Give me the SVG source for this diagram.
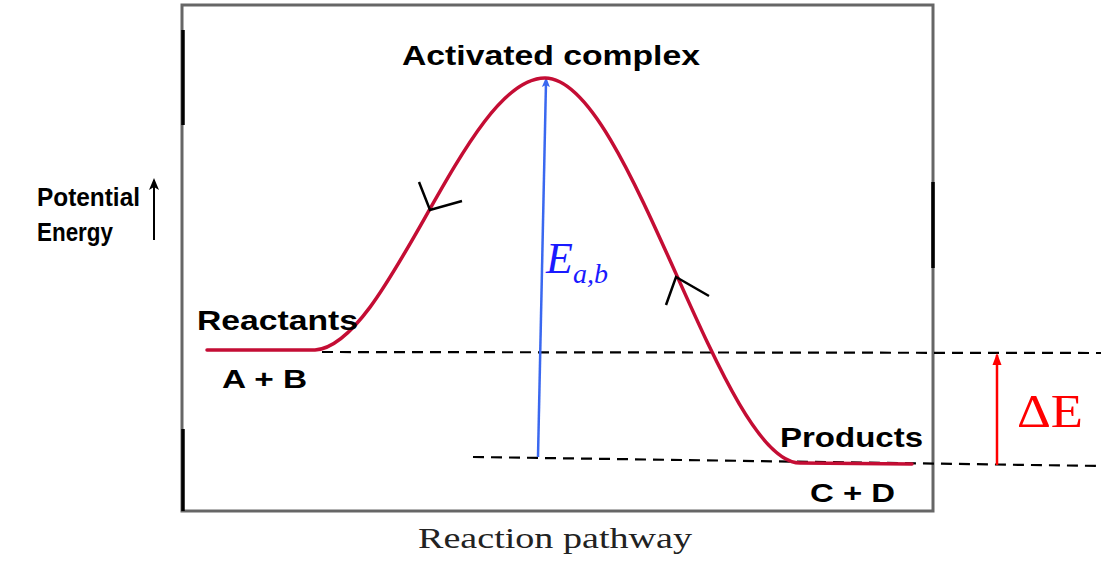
<svg xmlns="http://www.w3.org/2000/svg" width="1101" height="564" viewBox="0 0 1101 564">
<defs>
<style>
.lbl{font-family:"Liberation Sans",Arial,sans-serif;font-weight:bold;fill:#000}
.dash{stroke:#000;stroke-width:2.2;stroke-dasharray:11,7;fill:none}
.curve{stroke:#c40d34;stroke-width:3.5;fill:none;stroke-linecap:round}
.tick{stroke:#000;stroke-width:2.5;fill:none}
</style>
<marker id="ab" markerWidth="10" markerHeight="10" refX="5" refY="5" orient="auto" markerUnits="userSpaceOnUse" viewBox="0 0 10 10"><path d="M0,1 L10,5 L0,9 L2,5 Z" fill="#3a68f0"/></marker>
<marker id="ar" markerWidth="12" markerHeight="12" refX="10" refY="6" orient="auto" markerUnits="userSpaceOnUse" viewBox="0 0 12 12"><path d="M0,1.5 L12,6 L0,10.5 Z" fill="#f00"/></marker>
<marker id="ak" markerWidth="12" markerHeight="12" refX="10" refY="6" orient="auto" markerUnits="userSpaceOnUse" viewBox="0 0 12 12"><path d="M0,1 L12,6 L0,11 L3,6 Z" fill="#000"/></marker>
</defs>
<rect width="1101" height="564" fill="#fff"/>
<g id="frame">
<rect x="182" y="5" width="751" height="506" fill="none" stroke="#666" stroke-width="3"/>
<line x1="183" y1="30" x2="183" y2="125" stroke="#000" stroke-width="3.5"/>
<line x1="183" y1="429" x2="183" y2="511" stroke="#000" stroke-width="3.5"/>
<line x1="933" y1="182" x2="933" y2="268" stroke="#000" stroke-width="3.5"/>
</g>
<g id="connectors">
<line class="dash" x1="322" y1="352" x2="1101" y2="353"/>
<line class="dash" x1="473" y1="457" x2="1101" y2="466"/>
<line x1="538" y1="457" x2="546" y2="82" stroke="#3a68f0" stroke-width="2.5" marker-end="url(#ab)"/>
<line x1="997" y1="465" x2="997" y2="355" stroke="#f00" stroke-width="2.5" marker-end="url(#ar)"/>
<line x1="154" y1="240" x2="154" y2="180" stroke="#000" stroke-width="2" marker-end="url(#ak)"/>
</g>
<g id="curve">
<path class="curve" d="M207,350 L315,350 C390,345 465,78 545,78 C630,78 720,462 800,463 L912,464"/>
<path class="tick" d="M419,182 L430,210 L462,201"/>
<path class="tick" d="M666,305 L676,277 L709,296"/>
</g>
<g id="labels">
<text class="lbl" x="402" y="65" font-size="28" textLength="298" lengthAdjust="spacingAndGlyphs">Activated complex</text>
<text class="lbl" x="37" y="206" font-size="25" textLength="103" lengthAdjust="spacingAndGlyphs">Potential</text>
<text class="lbl" x="37" y="241" font-size="25" textLength="76" lengthAdjust="spacingAndGlyphs">Energy</text>
<text class="lbl" x="197" y="330" font-size="28" textLength="161" lengthAdjust="spacingAndGlyphs">Reactants</text>
<text class="lbl" x="222" y="388" font-size="25" textLength="85" lengthAdjust="spacingAndGlyphs">A + B</text>
<text class="lbl" x="780" y="447" font-size="27" textLength="143" lengthAdjust="spacingAndGlyphs">Products</text>
<text class="lbl" x="810" y="502" font-size="25" textLength="85" lengthAdjust="spacingAndGlyphs">C + D</text>
<text x="418" y="548" font-family="'Liberation Serif','Times New Roman',serif" font-size="30" fill="#222" textLength="274" lengthAdjust="spacingAndGlyphs">Reaction pathway</text>
<text x="546" y="273" font-family="'Liberation Serif','Times New Roman',serif" font-style="italic" font-size="44" fill="#1a1aff">E<tspan font-size="28" dy="10">a,b</tspan></text>
<text x="1017" y="427" font-family="'Liberation Serif','Times New Roman',serif" font-size="46" fill="#f00" textLength="66" lengthAdjust="spacingAndGlyphs">ΔE</text>
</g>
</svg>
